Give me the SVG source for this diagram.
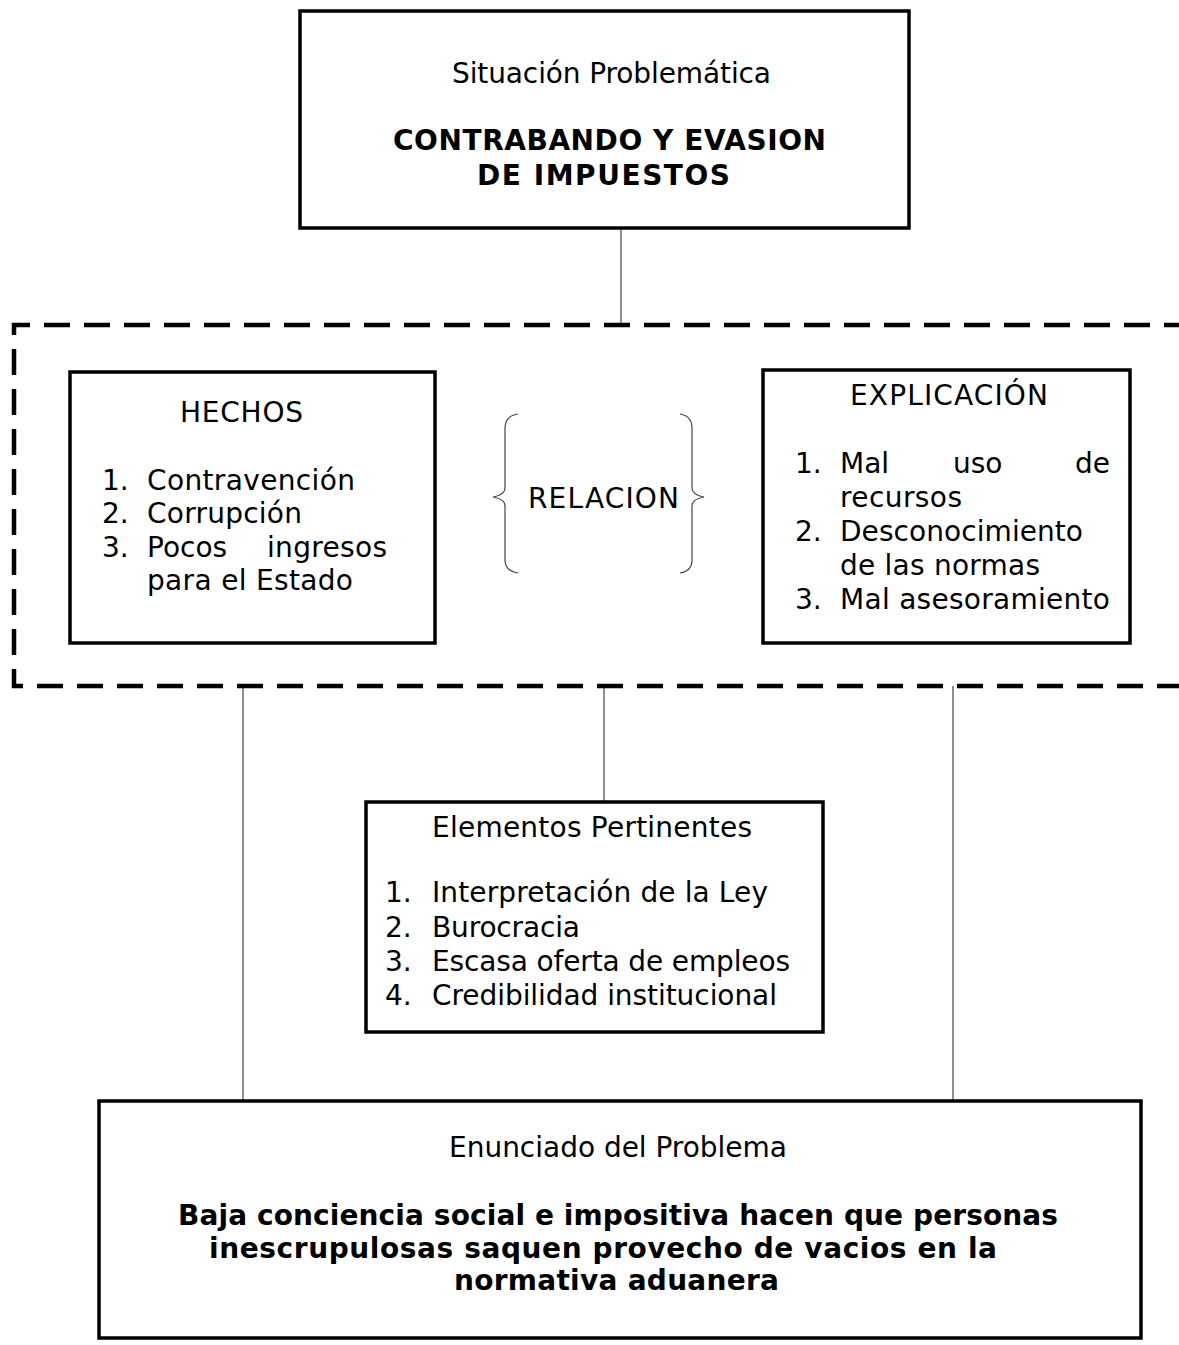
<svg xmlns="http://www.w3.org/2000/svg" width="1179" height="1345" viewBox="0 0 1179 1345">
<style>
.box{fill:#fff;stroke:#000;stroke-width:3.5}
.t{font-family:"DejaVu Sans","Verdana",sans-serif;font-size:28px;fill:#000}
.b{font-family:"DejaVu Sans","Verdana",sans-serif;font-size:28px;font-weight:bold;fill:#000}
.c{fill:none;stroke:#444;stroke-width:1.2}
.dash{fill:none;stroke:#000;stroke-width:4.5;stroke-dasharray:26 14}
</style>
<rect width="1179" height="1345" fill="#fff"/>
<g id="connectors">
<path class="c" d="M621,228 V325 H628"/>
<path class="c" d="M243,686 V1100"/>
<path class="c" d="M604,686 V802"/>
<path class="c" d="M953,686 V1100"/>
</g>
<g id="group-frame">
<path class="dash" d="M1190,325 H14 V686 H1190"/>
</g>
<g id="situacion">
<rect class="box" x="300" y="11" width="609" height="217" stroke-width="4"/>
<text class="t" x="452" y="83" textLength="319">Situación Problemática</text>
<text class="b" x="393" y="150" textLength="433">CONTRABANDO Y EVASION</text>
<text class="b" x="477" y="185" textLength="253">DE IMPUESTOS</text>
</g>
<g id="hechos">
<rect class="box" x="70" y="372" width="365" height="271"/>
<text class="t" x="180" y="422" textLength="123">HECHOS</text>
<text class="t" x="102" y="490">1.</text>
<text class="t" x="147" y="490" textLength="208">Contravención</text>
<text class="t" x="102" y="523">2.</text>
<text class="t" x="147" y="523" textLength="155">Corrupción</text>
<text class="t" x="102" y="557">3.</text>
<text class="t" x="147" y="557">Pocos</text>
<text class="t" x="267" y="557" textLength="120">ingresos</text>
<text class="t" x="147" y="590" textLength="206">para el Estado</text>
</g>
<g id="relacion">
<path class="c" d="M518,414 Q505,416 505,428 V488 Q505,495 493,497 Q505,499 505,506 V560 Q505,571 518,573"/>
<path class="c" d="M680,414 Q692,416 692,428 V488 Q692,495 704,497 Q692,499 692,506 V560 Q692,571 680,573"/>
<text class="t" x="528" y="508" textLength="151">RELACION</text>
</g>
<g id="explicacion">
<rect class="box" x="763" y="370" width="367" height="273"/>
<text class="t" x="850" y="405" textLength="198">EXPLICACIÓN</text>
<text class="t" x="795" y="473">1.</text>
<text class="t" x="840" y="473">Mal</text>
<text class="t" x="953" y="473">uso</text>
<text class="t" x="1075" y="473">de</text>
<text class="t" x="840" y="507" textLength="122">recursos</text>
<text class="t" x="795" y="541">2.</text>
<text class="t" x="840" y="541" textLength="243">Desconocimiento</text>
<text class="t" x="840" y="575" textLength="200">de las normas</text>
<text class="t" x="795" y="609">3.</text>
<text class="t" x="840" y="609" textLength="270">Mal asesoramiento</text>
</g>
<g id="elementos">
<rect class="box" x="366" y="802" width="457" height="230"/>
<text class="t" x="432" y="837" textLength="320">Elementos Pertinentes</text>
<text class="t" x="385" y="902">1.</text>
<text class="t" x="432" y="902" textLength="336">Interpretación de la Ley</text>
<text class="t" x="385" y="937">2.</text>
<text class="t" x="432" y="937" textLength="148">Burocracia</text>
<text class="t" x="385" y="971">3.</text>
<text class="t" x="432" y="971" textLength="358">Escasa oferta de empleos</text>
<text class="t" x="385" y="1005">4.</text>
<text class="t" x="432" y="1005" textLength="345">Credibilidad institucional</text>
</g>
<g id="enunciado">
<rect class="box" x="99" y="1101" width="1042" height="237"/>
<text class="t" x="449" y="1157" textLength="338">Enunciado del Problema</text>
<text class="b" x="178" y="1225" textLength="880">Baja conciencia social e impositiva hacen que personas</text>
<text class="b" x="209" y="1258" textLength="788">inescrupulosas saquen provecho de vacios en la</text>
<text class="b" x="454" y="1290" textLength="325">normativa aduanera</text>
</g>
</svg>
